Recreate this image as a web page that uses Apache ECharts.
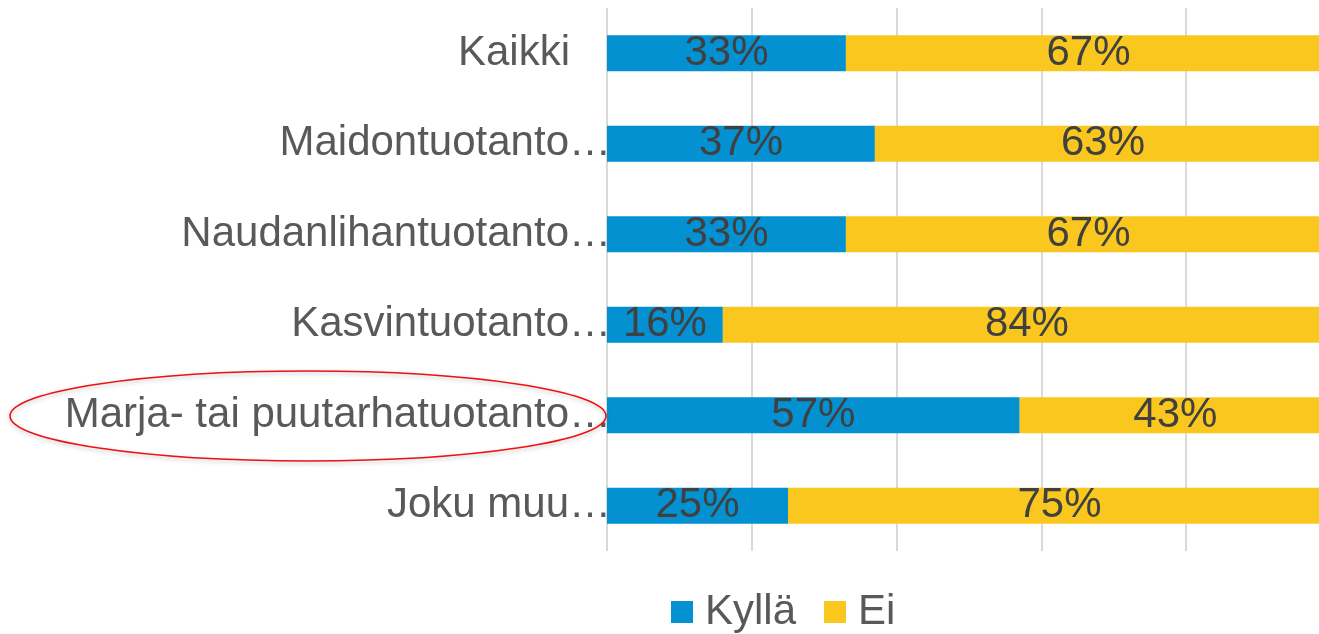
<!DOCTYPE html>
<html>
<head>
<meta charset="utf-8">
<script src="https://cdn.jsdelivr.net/npm/echarts@6/dist/echarts.min.js"></script>
<style>
  html, body { margin: 0; padding: 0; background: #ffffff; }
  #chart { width: 1319px; height: 634px; }
</style>
</head>
<body>
<div id="chart"></div>
<script>
// Production categories (top to bottom)
const categories = [
  'Kaikki',
  'Maidontuotanto…',
  'Naudanlihantuotanto…',
  'Kasvintuotanto…',
  'Marja- tai puutarhatuotanto…',
  'Joku muu…'
];
// Share of answers, percent
const kyllaValues = [33, 37, 33, 16, 57, 25];
const eiValues = [67, 63, 67, 84, 43, 75];
const seriesNames = ['Kyllä', 'Ei'];

const FONT = '"Liberation Sans", Arial, sans-serif';
const FS = 42;

const chart = echarts.init(document.getElementById('chart'), null, { renderer: 'canvas' });

const valueLabel = {
  show: true,
  position: 'inside',
  formatter: '{c}%',
  color: '#404040',
  fontSize: FS,
  fontFamily: FONT
};

chart.setOption({
  animation: false,
  backgroundColor: '#ffffff',
  // plot area runs a little past the right edge of the canvas
  grid: { left: 607, top: 8, width: 724, height: 543, containLabel: false, outerBoundsMode: 'none' },
  xAxis: {
    type: 'value',
    min: 0,
    max: 100,
    interval: 20,
    axisLabel: { show: false },
    axisLine: { show: false },
    axisTick: { show: false },
    splitLine: { show: true, lineStyle: { color: '#d9d9d9', width: 2 } }
  },
  yAxis: {
    type: 'category',
    inverse: true,
    data: categories,
    axisLine: { show: false },
    axisTick: { show: false },
    axisLabel: {
      margin: -4,
      color: '#595959',
      fontSize: FS,
      fontFamily: FONT,
      formatter: function (v) {
        return v === 'Kaikki' ? '{pad|' + v + '}' : v;
      },
      rich: {
        pad: { color: '#595959', fontSize: FS, fontFamily: FONT, padding: [0, 41, 0, 0] }
      }
    }
  },
  legend: {
    data: seriesNames,
    left: 671,
    top: 591,
    padding: 0,
    itemWidth: 22,
    itemHeight: 22,
    itemGap: 28,
    icon: 'rect',
    textStyle: { color: '#595959', fontSize: FS, fontFamily: FONT, padding: [0, 0, 0, 7] }
  },
  series: [
    {
      name: seriesNames[0],
      type: 'bar',
      stack: 'total',
      barWidth: 36,
      itemStyle: { color: '#0391D1' },
      label: valueLabel,
      data: kyllaValues
    },
    {
      name: seriesNames[1],
      type: 'bar',
      stack: 'total',
      barWidth: 36,
      itemStyle: { color: '#F9C71E' },
      label: valueLabel,
      data: eiValues
    }
  ],
  graphic: [
    {
      type: 'ellipse',
      shape: { cx: 308, cy: 416, rx: 298, ry: 45 },
      style: {
        fill: 'none',
        stroke: '#EE1111',
        lineWidth: 1.6,
        shadowBlur: 4,
        shadowOffsetY: 2,
        shadowColor: 'rgba(0,0,0,0.25)'
      },
      z: 100
    }
  ]
});
</script>
</body>
</html>
